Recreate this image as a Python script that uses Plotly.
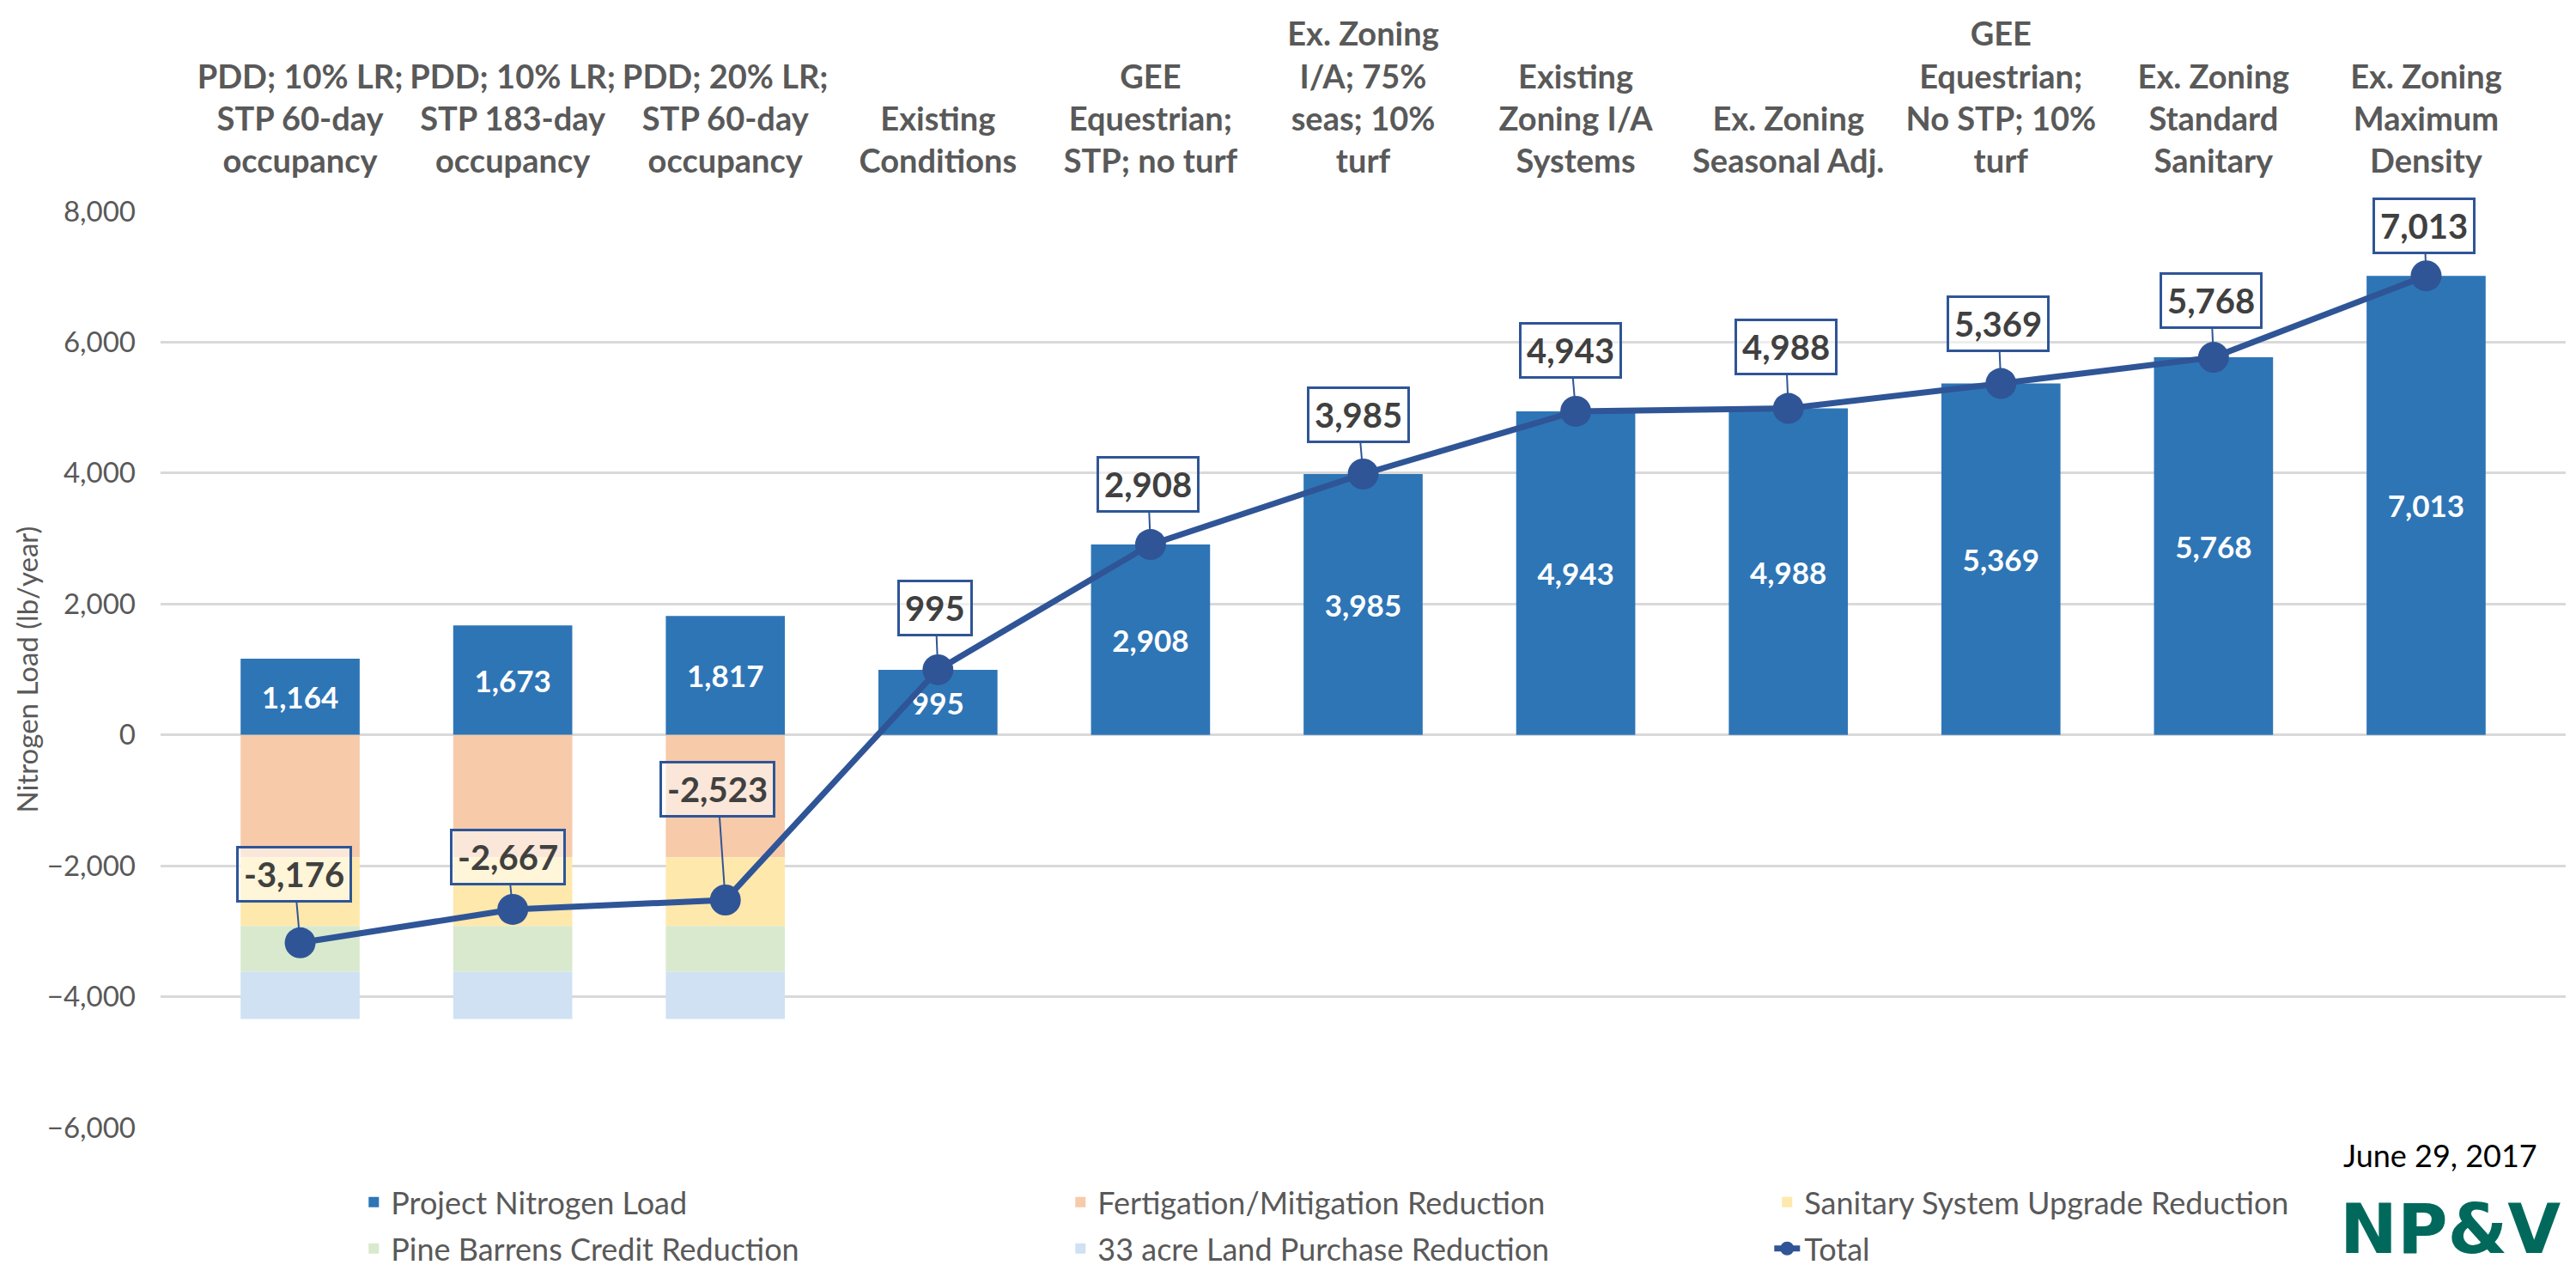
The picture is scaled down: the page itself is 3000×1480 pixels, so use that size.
import plotly.graph_objects as go

categories = [
    "PDD; 10% LR;<br>STP 60-day<br>occupancy",
    "PDD; 10% LR;<br>STP 183-day<br>occupancy",
    "PDD; 20% LR;<br>STP 60-day<br>occupancy",
    "Existing<br>Conditions",
    "GEE<br>Equestrian;<br>STP; no turf",
    "Ex. Zoning<br>I/A; 75%<br>seas; 10%<br>turf",
    "Existing<br>Zoning I/A<br>Systems",
    "Ex. Zoning<br>Seasonal Adj.",
    "GEE<br>Equestrian;<br>No STP; 10%<br>turf",
    "Ex. Zoning<br>Standard<br>Sanitary",
    "Ex. Zoning<br>Maximum<br>Density",
]
project_load = [1164, 1673, 1817, 995, 2908, 3985, 4943, 4988, 5369, 5768, 7013]
fertigation = [-1870, -1870, -1870, None, None, None, None, None, None, None, None]
sanitary = [-1050, -1050, -1050, None, None, None, None, None, None, None, None]
pine_barrens = [-700, -700, -700, None, None, None, None, None, None, None, None]
land_purchase = [-720, -720, -720, None, None, None, None, None, None, None, None]
total = [-3176, -2667, -2523, 995, 2908, 3985, 4943, 4988, 5369, 5768, 7013]
y_ticks = [-6000, -4000, -2000, 0, 2000, 4000, 6000, 8000]

# label box offsets (px) relative to the line points
label_dx = [-7, -6, -9, -3, -3, -6, -6, -3, -3, -3, -2]
label_dy = [-80, -61, -129, -72, -70, -69, -71, -72, -70, -66, -58]

GREY = "#595959"
FONT = "Lato"

fig = go.Figure()
fig.add_trace(go.Bar(
    name="Project Nitrogen Load", x=categories, y=project_load,
    marker_color="#2E75B6", marker_line_width=0,
    text=[f"{v:,}" for v in project_load], textposition="inside",
    insidetextanchor="middle", constraintext="none",
    textfont=dict(color="white", size=35, family=FONT, weight="bold"),
    legend="legend",
))
fig.add_trace(go.Bar(name="Fertigation/Mitigation Reduction", x=categories, y=fertigation,
                     marker_color="#F7CAAA", marker_line_width=0, legend="legend"))
fig.add_trace(go.Bar(name="Sanitary System Upgrade Reduction", x=categories, y=sanitary,
                     marker_color="#FEE8AC", marker_line_width=0, legend="legend"))
fig.add_trace(go.Bar(name="Pine Barrens Credit Reduction", x=categories, y=pine_barrens,
                     marker_color="#D9E9CD", marker_line_width=0, legend="legend2"))
fig.add_trace(go.Bar(name="33 acre Land Purchase Reduction", x=categories, y=land_purchase,
                     marker_color="#CFE1F3", marker_line_width=0, legend="legend2"))
fig.add_trace(go.Scatter(
    name="Total", x=categories, y=total, mode="lines+markers",
    line=dict(color="#2F5597", width=7),
    marker=dict(color="#2F5597", size=36),
    legend="legend2",
))

for c, v, dx, dy in zip(categories, total, label_dx, label_dy):
    fig.add_annotation(
        x=c, y=v, xref="x", yref="y", text=f"{v:,}",
        showarrow=True, arrowhead=0, arrowwidth=2, arrowcolor="#2F5597",
        ax=dx, ay=dy, standoff=16,
        bordercolor="#2F5597", borderwidth=3, borderpad=6,
        bgcolor="rgba(255,255,255,0.55)",
        font=dict(family=FONT, size=40, color="#404040", weight="bold"),
    )

fig.add_annotation(text="June 29, 2017", xref="paper", yref="paper",
                   x=0.948, y=-0.030, xanchor="center", yanchor="middle",
                   showarrow=False, font=dict(family=FONT, size=36, color="black"))
fig.add_annotation(text="NP&V", xref="paper", yref="paper",
                   x=0.952, y=-0.1565, xanchor="center", yanchor="bottom",
                   showarrow=False,
                   font=dict(family="DejaVu Sans", size=80, color="#00695C", weight="bold"))

legend_common = dict(orientation="h", xanchor="left", yanchor="middle",
                     entrywidth=778, entrywidthmode="pixels", traceorder="normal",
                     font=dict(family=FONT, size=36, color=GREY),
                     bgcolor="rgba(0,0,0,0)")

fig.update_layout(
    width=3000, height=1480,
    margin=dict(l=187, r=12, t=246, b=167, autoexpand=False),
    paper_bgcolor="white", plot_bgcolor="white",
    barmode="relative", bargap=0.44,
    font=dict(family=FONT, color=GREY),
    showlegend=True,
    legend=dict(x=0.0815, y=-0.0815, **legend_common),
    legend2=dict(x=0.0815, y=-0.132, **legend_common),
    xaxis=dict(side="top", ticks="", showgrid=False, showline=False, tickangle=0,
               tickfont=dict(family=FONT, size=38, color=GREY, weight="bold"),
               ticklabelstandoff=36),
    yaxis=dict(range=[-6000, 8000], tickvals=y_ticks, tickformat=",",
               ticks="", showline=False,
               gridcolor="#D9D9D9", gridwidth=3,
               zeroline=True, zerolinecolor="#D9D9D9", zerolinewidth=3,
               tickfont=dict(family=FONT, size=33, color=GREY),
               ticklabelstandoff=28,
               title=dict(text="Nitrogen Load (lb/year)", standoff=0,
                          font=dict(family=FONT, size=33, color=GREY))),
)

fig.write_html("out.html")
